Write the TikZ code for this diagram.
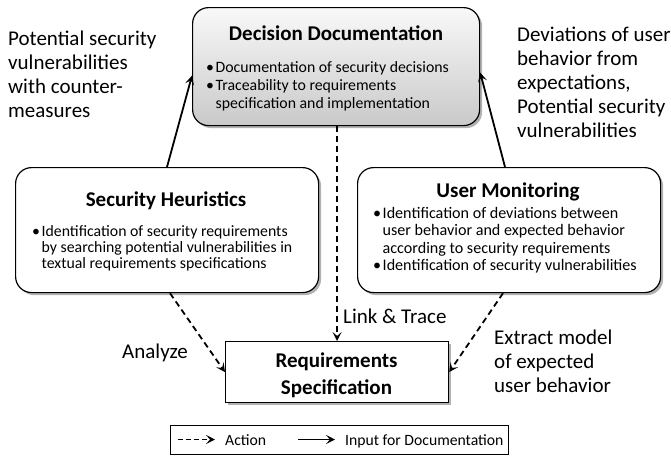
\documentclass[tikz,border=0pt]{standalone}
\usepackage{fontspec}
\setmainfont{Carlito}
\usetikzlibrary{arrows.meta,shadows}
\tikzset{
  shad/.style={drop shadow={shadow xshift=2.5pt,shadow yshift=-2.5pt,fill=black,opacity=0.3}},
  boxbase/.style={draw=black,line width=1.2pt,fill=white,inner sep=0pt,anchor=north west},
  rbox/.style={boxbase,shad,rounded corners=16pt},
  sbox/.style={boxbase,shad},
  ttl/.style={font=\fontsize{21}{25}\selectfont\bfseries,inner sep=0pt,anchor=base},
  bodytxt/.style={font=\fontsize{15.8}{#1}\selectfont,inner sep=0pt,anchor=base west},
  lbl/.style={font=\fontsize{21}{24}\selectfont,inner sep=0pt,anchor=base west,align=flush left,text width=200pt},
  legtxt/.style={font=\fontsize{15.7}{17}\selectfont,inner sep=0pt,anchor=base west},
  tip/.style={-{Stealth[length=9pt,width=9pt,inset=4pt]}},
  inp/.style={tip,line width=1.8pt},
  act/.style={tip,line width=1.8pt,dash pattern=on 6pt off 4pt},
}
\newcommand\bl{\makebox[9.5pt][l]{\textbullet}}
\begin{document}
\begin{tikzpicture}[x=1pt,y=-1pt]
\useasboundingbox (0,0) rectangle (671,455);
% boxes
\node[rbox,top color=gray!5,bottom color=gray!42,minimum width=287pt,minimum height=118pt] (dd) at (192,7) {};
\node[rbox,minimum width=303pt,minimum height=125pt] (sh) at (15,167) {};
\node[rbox,minimum width=303pt,minimum height=125pt] (um) at (357,167) {};
\node[sbox,minimum width=223pt,minimum height=61pt] (rs) at (225,341) {};
\node[boxbase,line width=1pt,minimum width=338pt,minimum height=29pt] (leg) at (170,425) {};
% titles
\node[ttl] (ddt) at (336,40) {Decision Documentation};
\node[ttl] (sht) at (166,206) {Security Heuristics};
\node[ttl] (umt) at (508,197) {User Monitoring};
\node[ttl,align=center,text width=200pt,font=\fontsize{21}{27}\selectfont\bfseries] (rst) at (336.5,367) {Requirements\\Specification};
% bodies
\node[bodytxt=18] (ddb) at (206,72) {\begin{tabular}[t]{@{}l@{}l@{}}\bl&Documentation of security decisions\\ \bl&Traceability to requirements\\ &specification and implementation\end{tabular}};
\node[bodytxt=16] (shb) at (32,236.5) {\begin{tabular}[t]{@{}l@{}l@{}}\bl&Identification of security requirements\\ &by searching potential vulnerabilities in\\ &textual requirements specifications\end{tabular}};
\node[bodytxt=17.6,font=\fontsize{16.1}{17.6}\selectfont] (umb) at (373,218) {\begin{tabular}[t]{@{}l@{}l@{}}\bl&Identification of deviations between\\ &user behavior and expected behavior\\ &according to security requirements\\ \bl&Identification of security vulnerabilities\end{tabular}};
% outer labels
\node[lbl] (l1) at (8,45.5) {Potential security\\vulnerabilities\\with counter-\\measures};
\node[lbl] (l2) at (517,41.5) {Deviations of user\\behavior from\\expectations,\\Potential security\\vulnerabilities};
\node[lbl] (l3) at (122,358) {Analyze};
\node[lbl] (l4) at (343,323) {Link \& Trace};
\node[lbl] (l5) at (494,344) {Extract model\\of expected\\user behavior};
% connectors
\draw[inp] ([xshift=152pt]sh.north west) -- ([yshift=-9pt]dd.west);
\draw[inp] ([xshift=148pt]um.north west) -- ([yshift=-6pt]dd.east);
\draw[act] (rs.north |- dd.south) -- (rs.north);
\draw[act] ([xshift=155pt]sh.south west) -- (rs.west);
\draw[act] ([xshift=146pt]um.south west) -- (rs.east);
% legend
\coordinate (a1) at (178,439.5);
\coordinate (a2) at (215,439.5);
\coordinate (b1) at (298,439.5);
\coordinate (b2) at (335,439.5);
\draw[act,dash pattern=on 5pt off 3pt] (a1) -- (a2);
\draw[inp] (b1) -- (b2);
\node[legtxt] (lt1) at (225,445) {Action};
\node[legtxt] (lt2) at (345,445) {Input for Documentation};
\end{tikzpicture}
\end{document}
